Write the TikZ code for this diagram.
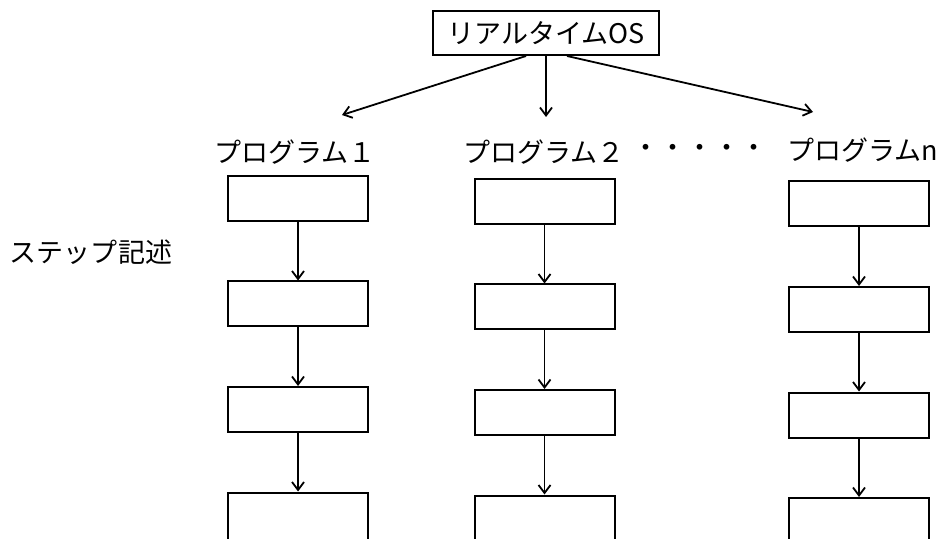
\documentclass[tikz,border=0pt]{standalone}
\usepackage{fontspec}
\setmainfont{Noto Sans CJK JP}
\usepackage{tikz}
\usetikzlibrary{positioning,arrows.meta}

\begin{document}
\begin{tikzpicture} [ x=0.5pt, y=-0.5pt, node distance=29.25pt,
    >={Straight Barb[length=4pt,width=6pt]},
    every node/.style={font=\fontsize{13.5}{15}\selectfont},
    box/.style={rectangle, draw, line width=1pt, minimum width=70pt,
      minimum height=22.5pt, inner sep=0pt},
    lastbox/.style={box, minimum height=40pt},
    con/.style={->, line width=0.9pt},
    label/.style={inner sep=0pt}
    ]
    \useasboundingbox (0,0) rectangle (936,539);
    \clip (0,0) rectangle (936,539);

    % scheduler on top
    \node (os) [box, minimum width=113pt, minimum height=22pt] at (546,33)
      {リアルタイムOS};
    \coordinate (t1) at (342,115);
    \coordinate (t2) at (546,117);
    \coordinate (tn) at (813,112);

    \node (l1) [label] at (295,152) {プログラム１};
    \node (l2) [label] at (544,152) {プログラム２};
    \node (dots) [label] at (700,151) {・・・・・};
    \node (ln) [label] at (863,150) {プログラムn};
    \node (step) [label] at (91,252) {ステップ記述};

    % program 1
    \node (a1) [box] at (298,198.5) {};
    \node (a2) [box, below=of a1] {};
    \node (a3) [box, below=of a2] {};
    \node (a4) [lastbox, below=of a3] {};

    % program 2
    \node (b1) [box] at (544.5,201.5) {};
    \node (b2) [box, below=of b1] {};
    \node (b3) [box, below=of b2] {};
    \node (b4) [lastbox, below=of b3] {};

    % program n
    \node (c1) [box] at (859,204) {};
    \node (c2) [box, below=of c1] {};
    \node (c3) [box, below=of c2] {};
    \node (c4) [lastbox, below=of c3] {};

    \draw [con] ([xshift=-10pt]os.south) -- (t1);
    \draw [con] (os.south) -- (t2);
    \draw [con] ([xshift=10.5pt]os.south) -- (tn);

    \draw [con] (a1) -- (a2);
    \draw [con] (a2) -- (a3);
    \draw [con] (a3) -- (a4);
    \draw [con] (b1) -- (b2);
    \draw [con] (b2) -- (b3);
    \draw [con] (b3) -- (b4);
    \draw [con] (c1) -- (c2);
    \draw [con] (c2) -- (c3);
    \draw [con] (c3) -- (c4);
\end{tikzpicture}
\end{document}
